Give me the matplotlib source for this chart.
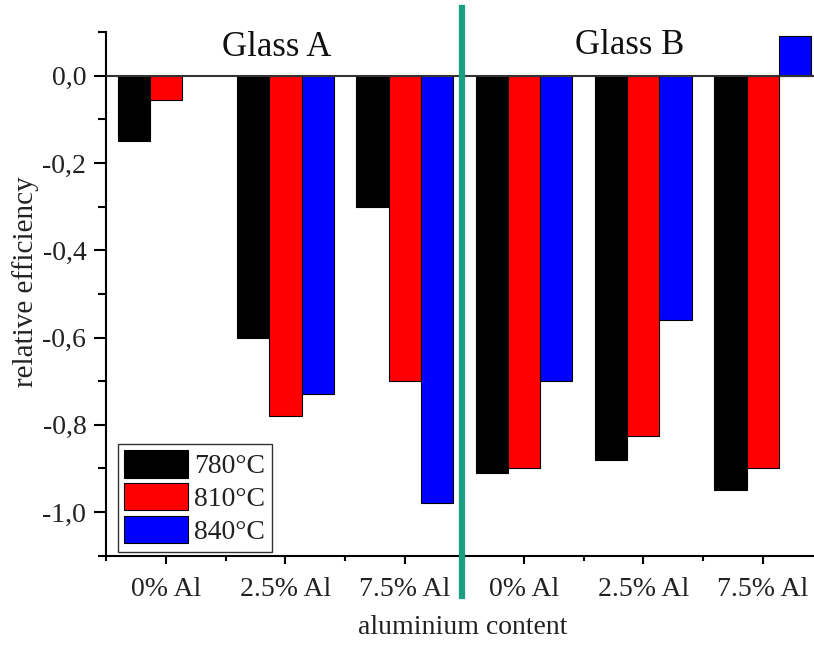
import numpy as np
import matplotlib
matplotlib.use("Agg")
import matplotlib.pyplot as plt
from matplotlib.ticker import MultipleLocator

plt.rcParams['font.family'] = ['Liberation Serif', 'DejaVu Serif']

categories = ['0% Al', '2.5% Al', '7.5% Al', '0% Al', '2.5% Al', '7.5% Al']
series_names = ['780°C', '810°C', '840°C']
vals_780 = [-0.15, -0.60, -0.30, -0.91, -0.88, -0.95]
vals_810 = [-0.055, -0.78, -0.70, -0.90, -0.825, -0.90]
vals_840 = [np.nan, -0.73, -0.98, -0.70, -0.56, 0.09]
colors = ['#000000', '#ff0000', '#0000ff']

fig = plt.figure(figsize=(8.14, 6.45), dpi=100)
ax = fig.add_axes([0.1308, 0.1384, 0.8692, 0.812])

x = np.arange(len(categories))
w = 0.27
for i, (vals, name, c) in enumerate(zip([vals_780, vals_810, vals_840], series_names, colors)):
    ax.bar(x + (i - 1) * w, vals, width=w, color=c, edgecolor='black',
           linewidth=0.8, label=name, zorder=2)

ax.axhline(0, color='#333333', lw=1.5, zorder=3)
ax.axvline(2.48, ymin=-0.077, ymax=1.045, color='#1b9e82', lw=4.5,
           clip_on=False, zorder=4)

ax.set_xlim(-0.5, 5.43)
ax.set_ylim(-1.1, 0.1)
ax.set_xticks(x)
ax.set_xticklabels(categories)
ax.xaxis.set_minor_locator(MultipleLocator(1.0, offset=0.5))
ax.set_yticks([0.0, -0.2, -0.4, -0.6, -0.8, -1.0])
ax.set_yticklabels(['0,0', '-0,2', '-0,4', '-0,6', '-0,8', '-1,0'])
ax.yaxis.set_minor_locator(MultipleLocator(0.1))

for s in ['top', 'right']:
    ax.spines[s].set_visible(False)
for s in ['left', 'bottom']:
    ax.spines[s].set_linewidth(1.5)
    ax.spines[s].set_color('black')

ax.tick_params(axis='y', which='major', direction='out', length=8.5, width=1.5,
               labelsize=20, pad=6, color='black', labelcolor='#222222')
ax.tick_params(axis='y', which='minor', direction='out', length=5.5, width=1.5)
ax.tick_params(axis='x', which='major', direction='out', length=5.5, width=1.5,
               labelsize=20, pad=10, color='black', labelcolor='#222222')
ax.tick_params(axis='x', which='minor', direction='out', length=3.6, width=1.5)

ax.set_xlabel('aluminium content', fontsize=20, color='#222222')
ax.xaxis.set_label_coords(0.504, -0.114)
ax.set_ylabel('relative efficiency', fontsize=21, color='#222222')
ax.yaxis.set_label_coords(-0.096, 0.524)

ax.text(0.93, 0.045, 'Glass A', fontsize=25, ha='center', va='baseline', color='#111111')
ax.text(3.887, 0.049, 'Glass B', fontsize=25, ha='center', va='baseline', color='#111111')

leg = ax.legend(loc='lower left', bbox_to_anchor=(0.016, 0.0076), fontsize=20,
                handlelength=2.27, handleheight=1.12, labelspacing=0.14,
                borderpad=0.24, handletextpad=0.25, borderaxespad=0,
                fancybox=False, framealpha=1, edgecolor='#333333')
leg.get_frame().set_linewidth(1.0)
for t in leg.get_texts():
    t.set_color('#222222')

fig.savefig('out.png', dpi=100)
